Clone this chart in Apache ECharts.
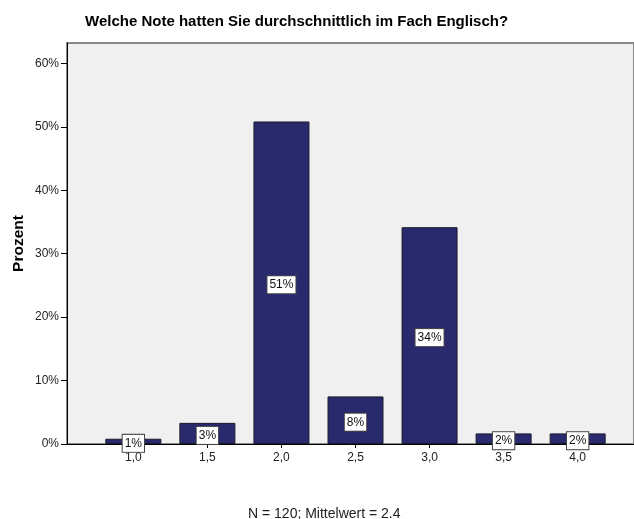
<!DOCTYPE html>
<html>
<head>
<meta charset="utf-8">
<script src="https://cdn.jsdelivr.net/npm/echarts@6/dist/echarts.min.js"></script>
<style>
    html, body { margin: 0; padding: 0; background: #fff; }
    #chart { width: 634px; height: 519px; }
</style>
</head>
<body>
<div id="chart"></div>
<script>
var noten = ['1,0', '1,5', '2,0', '2,5', '3,0', '3,5', '4,0'];
var prozent = [0.83, 3.33, 50.83, 7.5, 34.17, 1.67, 1.67];
var yTicks = [0, 10, 20, 30, 40, 50, 60];

var myChart = echarts.init(document.getElementById('chart'));

var fontFam = 'Liberation Sans, Arial, sans-serif';
var yMax = 63.2;

option = {
    animation: false,
    textStyle: { fontFamily: fontFam },
    title: [
        {
            text: 'Welche Note hatten Sie durchschnittlich im Fach Englisch?',
            left: 80,
            top: 9,
            textStyle: { fontSize: 15, fontWeight: 'bold', color: '#000', fontFamily: fontFam }
        },
        {
            text: 'N = 120; Mittelwert = 2.4',
            left: 243,
            top: 502,
            textStyle: { fontSize: 14, fontWeight: 'normal', color: '#222', fontFamily: fontFam }
        }
    ],
    grid: [
        // plot background + y axis
        {
            left: 67, right: 0, top: 43, bottom: 75,
            show: true,
            backgroundColor: '#f0f0f0',
            borderColor: '#8a8a8a',
            borderWidth: 2
        },
        // bars
        {
            left: 96.3, right: 19.3, top: 43, bottom: 75
        }
    ],
    xAxis: [
        {
            gridIndex: 0,
            type: 'value',
            min: 0, max: 1,
            axisLine: { show: true, onZero: false, lineStyle: { color: '#000', width: 1 } },
            axisTick: { show: false },
            axisLabel: { show: false },
            splitLine: { show: false }
        },
        {
            gridIndex: 1,
            type: 'category',
            data: noten,
            axisLine: { show: false },
            axisTick: { show: true, alignWithLabel: true, length: 4, lineStyle: { color: '#000' } },
            axisLabel: { fontSize: 12, color: '#222', margin: 8, fontFamily: fontFam },
            splitLine: { show: false }
        }
    ],
    yAxis: [
        {
            gridIndex: 0,
            type: 'value',
            min: 0, max: yMax, interval: 10,
            name: 'Prozent',
            nameLocation: 'middle',
            nameRotate: 90,
            nameGap: 40,
            nameMoveOverlap: false,
            nameTextStyle: { fontSize: 15.5, fontWeight: 'bold', color: '#000', fontFamily: fontFam },
            axisLine: { show: true, lineStyle: { color: '#000' } },
            axisTick: { show: true, length: 6, lineStyle: { color: '#000' } },
            axisLabel: {
                fontSize: 12, color: '#222', margin: 8, fontFamily: fontFam,
                showMaxLabel: false,
                formatter: function (v) {
                    return yTicks.indexOf(v) >= 0 ? v + '%' : '';
                }
            },
            splitLine: { show: false }
        },
        {
            gridIndex: 1,
            type: 'value',
            min: 0, max: yMax,
            show: false
        }
    ],
    series: [
        {
            name: 'Prozent',
            type: 'bar',
            xAxisIndex: 1,
            yAxisIndex: 1,
            barWidth: 56,
            data: prozent,
            itemStyle: {
                color: '#29296e',
                borderColor: '#1a1a2e',
                borderWidth: 1
            },
            label: {
                show: true,
                position: 'inside',
                offset: [0, 2],
                formatter: function (p) {
                    return Math.round(p.value) + '%';
                },
                fontSize: 12,
                color: '#111',
                fontFamily: fontFam,
                backgroundColor: '#fff',
                borderColor: '#444',
                borderWidth: 1,
                padding: [3, 2, 2, 2]
            }
        }
    ]
};
myChart.setOption(option);
</script>
</body>
</html>
